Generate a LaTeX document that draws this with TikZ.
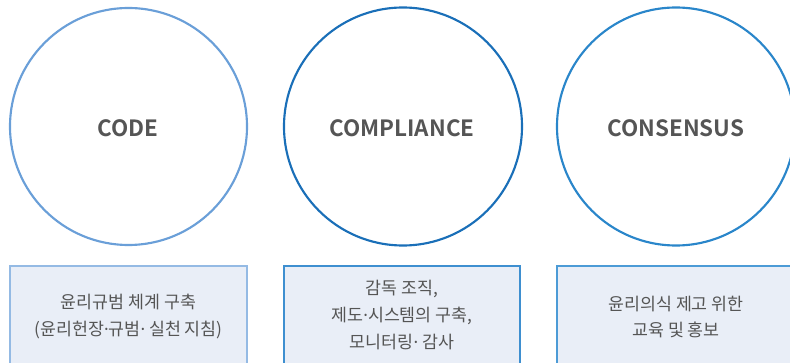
\documentclass[tikz,border=0pt]{standalone}
\usepackage{fontspec}
\setmainfont{Noto Sans CJK KR}
\newfontfamily\krbold{Noto Sans CJK KR Bold}
\newfontfamily\latinsans{Noto Sans}
\newcommand{\mdot}{{\latinsans ·}}
\definecolor{txtgray}{HTML}{555555}
\definecolor{circA}{HTML}{6A9FD8}
\definecolor{circB}{HTML}{1A6FB8}
\definecolor{circC}{HTML}{2A86CA}
\definecolor{boxfill}{HTML}{E9EEF7}
\definecolor{boxA}{HTML}{94BAE4}
\definecolor{boxB}{HTML}{3E8FD0}
\definecolor{boxC}{HTML}{4C9BD6}
\begin{document}
\begin{tikzpicture}[x=0.75pt,y=-0.75pt,
  ring/.style={circle,line width=1.6pt,inner sep=0pt},
  title/.style={font=\krbold\fontsize{16.8}{18}\selectfont,text=txtgray},
  infobox/.style={fill=boxfill,line width=0.8pt},
  info/.style={font=\fontsize{13}{20}\selectfont,text=txtgray,align=center}]
\useasboundingbox (0,0) rectangle (790,363);
\clip (0,0) rectangle (790,363);
\node[ring,draw=circA,minimum size=237*0.75pt] (c1) at (128.5,126.5) {};
\node[ring,draw=circB,minimum size=238*0.75pt] (c2) at (403,126.5) {};
\node[ring,draw=circC,minimum size=238*0.75pt] (c3) at (676,126.5) {};
\node[title] (t1) at (128,128) {CODE};
\node[title] (t2) at (402,128) {COMPLIANCE};
\node[title] (t3) at (676,128) {CONSENSUS};
\draw[infobox,draw=boxA] (10,266) rectangle (247,380);
\draw[infobox,draw=boxB] (284,266) rectangle (520,380);
\draw[infobox,draw=boxC] (557,266) rectangle (810,380);
\node[info] (b1) at (128.5,316.5) {윤리규범 체계 구축\\(윤리헌장\mdot 규범\mdot\ 실천 지침)};
\node[info] (b2) at (402,315) {감독 조직,\\제도\mdot 시스템의 구축,\\모니터링\mdot\ 감사};
\node[info] (b3) at (676,317) {윤리의식 제고 위한\\교육 및 홍보};
\end{tikzpicture}
\end{document}
